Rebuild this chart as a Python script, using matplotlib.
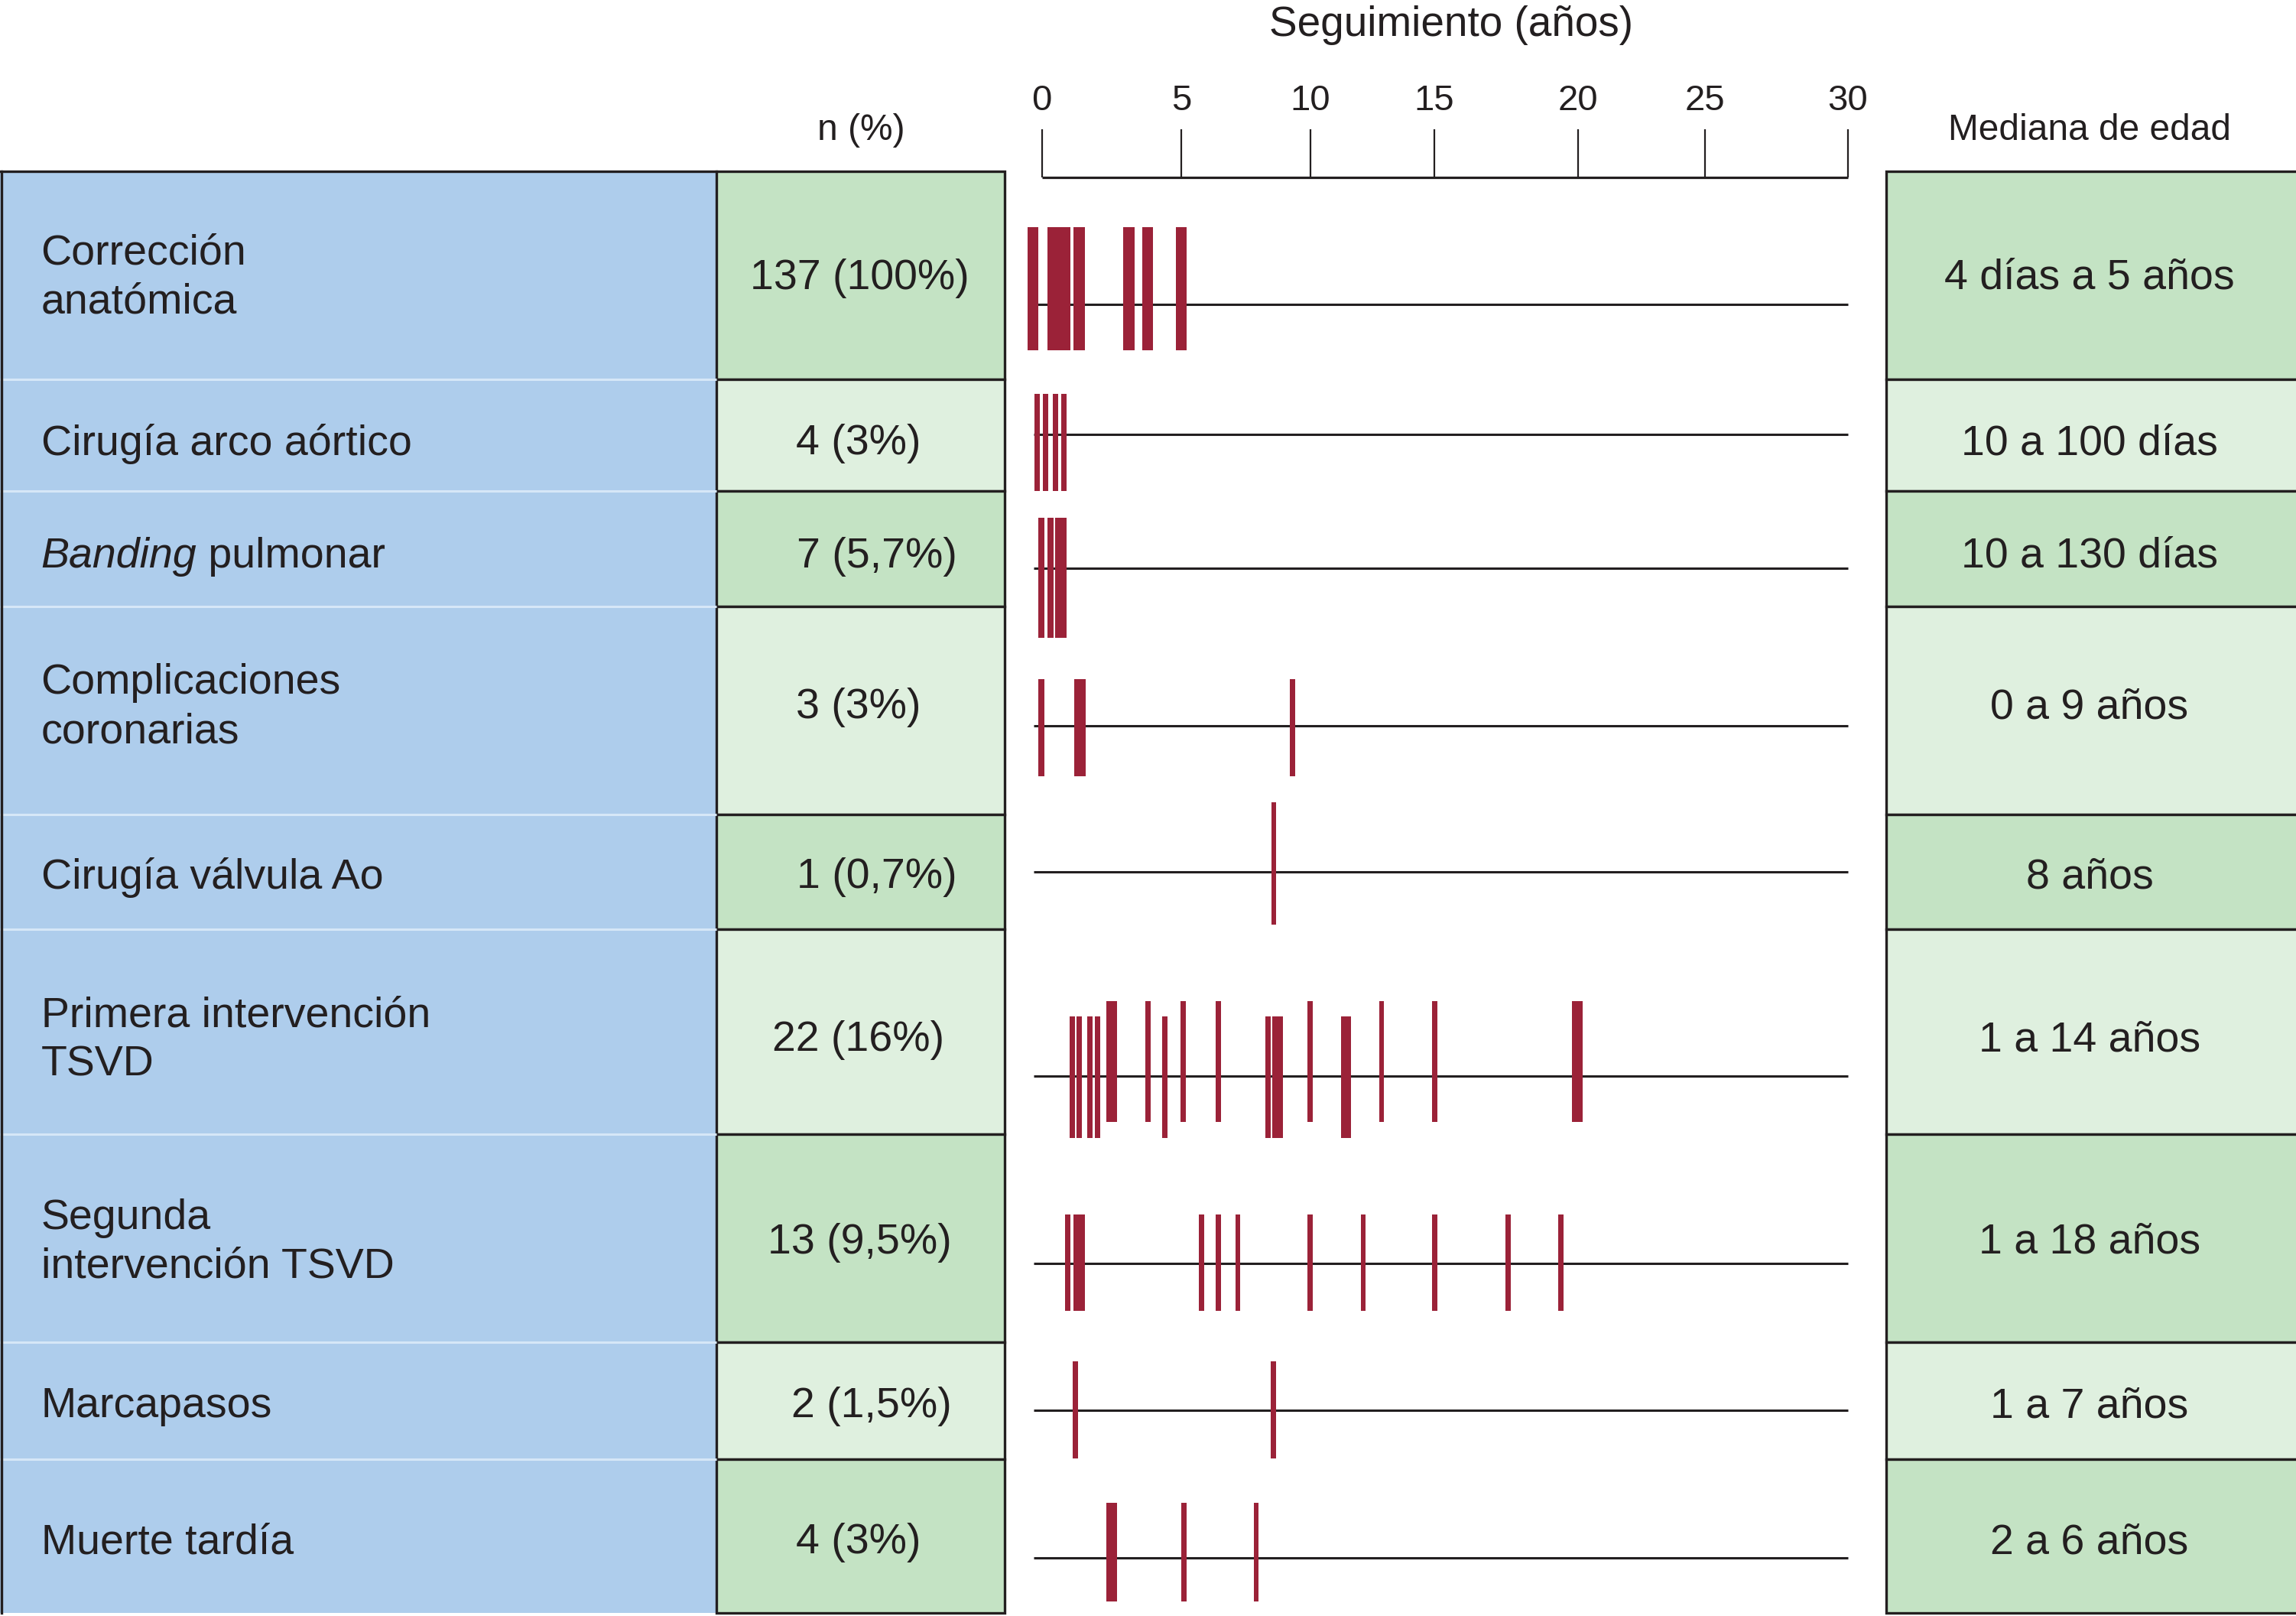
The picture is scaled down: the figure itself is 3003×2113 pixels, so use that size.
import matplotlib
matplotlib.use("Agg")
import numpy as np
import matplotlib.pyplot as plt
from matplotlib.patches import Rectangle

plt.rcParams['font.family'] = ['Liberation Sans', 'DejaVu Sans']

#%% datos
categorias = ["Corrección\nanatómica", "Cirugía arco aórtico", "Banding pulmonar",
              "Complicaciones\ncoronarias", "Cirugía válvula Ao", "Primera intervención\nTSVD",
              "Segunda\nintervención TSVD", "Marcapasos", "Muerte tardía"]
n_pct = ["137 (100%)", "4 (3%)", "7 (5,7%)", "3 (3%)", "1 (0,7%)", "22 (16%)",
         "13 (9,5%)", "2 (1,5%)", "4 (3%)"]
mediana_edad = ["4 días a 5 años", "10 a 100 días", "10 a 130 días", "0 a 9 años", "8 años",
                "1 a 14 años", "1 a 18 años", "1 a 7 años", "2 a 6 años"]

# momento de cada evento (años de seguimiento) y su peso (grosor relativo)
ev_correccion = [-0.32, 0.61, 1.34, 3.12, 3.79, 5.0]
pw_correccion = [2, 4, 2, 2, 2, 2]
ev_arco = [-0.16, 0.13, 0.48, 0.78]
pw_arco = [1, 1, 1, 1]
ev_banding = [-0.02, 0.31, 0.68]
pw_banding = [1, 1, 2]
ev_coronarias = [-0.02, 1.37, 9.31]
pw_coronarias = [1, 2, 1]
ev_valvula = [8.58]
pw_valvula = [1]
ev_tsvd1 = [1.09, 1.34, 1.72, 1.99, 2.5, 3.80, 4.40, 5.06, 6.42, 8.35, 8.73, 10.0,
            11.45, 12.87, 15.0, 20.0]
pw_tsvd1 = [1, 1, 1, 1, 2, 1, 1, 1, 1, 1, 2, 1, 2, 1, 1, 2]
ev_tsvd2 = [0.93, 1.34, 5.78, 6.42, 7.19, 10.0, 12.13, 15.0, 17.57, 19.41]
pw_tsvd2 = [1, 2, 1, 1, 1, 1, 1, 1, 1, 1]
ev_marcapasos = [1.20, 8.56]
pw_marcapasos = [1, 1]
ev_muerte = [2.5, 5.09, 7.90]
pw_muerte = [2, 1, 1]

eventos = [ev_correccion, ev_arco, ev_banding, ev_coronarias, ev_valvula,
           ev_tsvd1, ev_tsvd2, ev_marcapasos, ev_muerte]
pesos = [pw_correccion, pw_arco, pw_banding, pw_coronarias, pw_valvula,
         pw_tsvd1, pw_tsvd2, pw_marcapasos, pw_muerte]
ticks_anios = [0, 5, 10, 15, 20, 25, 30]

#%% layout (unidades de la imagen de 1568 x 1103)
W, H = 1568, 1103
bordes = [117, 259, 335, 414, 556, 634, 774, 916, 996, 1101]
y_txt = [190, 303, 380, 483, 599, 710, 848, 960, 1053]
x_npct = [587, 586, 599, 586, 599, 586, 587, 595, 586]
y_base = [208, 296.5, 388, 495.5, 595, 734.5, 862.5, 962.5, 1063.5]
barras_y = [(155, 239), (269, 335), (353.5, 435.5), (463.5, 530), (547.5, 631),
            (683.5, 766), (829, 894.5), (929, 995.5), (1026, 1093)]
tsvd1_bajas = [0, 1, 2, 3, 6, 9, 10, 12]   # barras desplazadas hacia abajo
x0_px, x30_px = 711.5, 1262
# la regla original no es del todo regular: donde cae cada marca
pos_marcas = [0, 5.20, 9.99, 14.61, 19.95, 24.67, 30]

AZUL = "#aecdec"
VERDE = "#c4e3c4"
VERDE_CLARO = "#dff0df"
ROJO = "#9b2238"
NEGRO = "#231f20"


def interp_ext(x, xp, fp):
    x = np.asarray(x, dtype=float)
    y = np.interp(x, xp, fp)
    m0 = (fp[1] - fp[0]) / (xp[1] - xp[0])
    return np.where(x < xp[0], fp[0] + (x - xp[0]) * m0, y)


def fwd(x):
    return interp_ext(x, ticks_anios, pos_marcas)


def inv(x):
    return interp_ext(x, pos_marcas, ticks_anios)


fig = plt.figure(figsize=(30.03, 21.13), dpi=100)
ax = fig.add_axes([0, 0, 1, 1])
ax.set_xlim(0, W)
ax.set_ylim(H, 0)
ax.axis("off")

# columna azul
ax.add_patch(Rectangle((0, bordes[0]), 489, bordes[-1] - bordes[0], fc=AZUL, ec="none"))
for b in bordes[1:-1]:
    ax.plot([0, 489], [b, b], color="#d6e7f7", lw=2.2, solid_capstyle="butt")
ax.plot([0, 489], [bordes[0], bordes[0]], color=NEGRO, lw=2.4)
ax.plot([0.8, 0.8], [bordes[0], bordes[-1]], color=NEGRO, lw=2.4)

# columnas verdes
for i in range(len(categorias)):
    col = VERDE if i % 2 == 0 else VERDE_CLARO
    y0, y1 = bordes[i], bordes[i + 1]
    ax.add_patch(Rectangle((489, y0), 197, y1 - y0, fc=col, ec=NEGRO, lw=2.4))
    ax.add_patch(Rectangle((1288, y0), 300, y1 - y0, fc=col, ec=NEGRO, lw=2.4))

# textos de la tabla
for i, cat in enumerate(categorias):
    if cat.startswith("Banding"):
        t1 = ax.text(28, y_txt[i], "Banding", fontsize=40, style="italic",
                     color=NEGRO, ha="left", va="center")
        ax.annotate(" pulmonar", xy=(1, 0), xycoords=t1, fontsize=40, color=NEGRO,
                    ha="left", va="bottom")
    else:
        ax.text(28, y_txt[i], cat, fontsize=40, color=NEGRO, ha="left", va="center",
                linespacing=1.3)
    ax.text(x_npct[i], y_txt[i], n_pct[i], fontsize=40, color=NEGRO, ha="center", va="center")
    ax.text(1427, y_txt[i], mediana_edad[i], fontsize=40, color=NEGRO, ha="center",
            va="center")

ax.text(588, 89, "n (%)", fontsize=34.5, color=NEGRO, ha="center", va="center")
ax.text(1427, 89, "Mediana de edad", fontsize=34.5, color=NEGRO, ha="center", va="center")
ax.text(991, 17, "Seguimiento (años)", fontsize=39.5, color=NEGRO, ha="center", va="center")

#%% linea de tiempo
axt = fig.add_axes([x0_px / W, 0, (x30_px - x0_px) / W, 1])
axt.set_xscale("function", functions=(fwd, inv))
axt.set_xlim(0, 30)
axt.set_ylim(H, 0)
axt.axis("off")

axt.hlines(121, 0, 30, color=NEGRO, lw=2.3, clip_on=False)
axt.vlines(ticks_anios, 88, 121, color=NEGRO, lw=1.6, clip_on=False)
for t in ticks_anios:
    axt.text(t, 69, str(t), fontsize=34, color=NEGRO, ha="center", va="center")

for i in range(len(eventos)):
    axt.hlines(y_base[i], -0.3, 30, color=NEGRO, lw=2.2, clip_on=False, zorder=1)
    top, bot = barras_y[i]
    for j, (x, p) in enumerate(zip(eventos[i], pesos[i])):
        t, b = top, bot
        if i == 5 and j in tsvd1_bajas:
            t, b = top + 10.5, bot + 11
        axt.bar(x, b - t, width=0.2 * p, bottom=t, color=ROJO, clip_on=False, zorder=2)

fig.savefig("out.png", dpi=100)
